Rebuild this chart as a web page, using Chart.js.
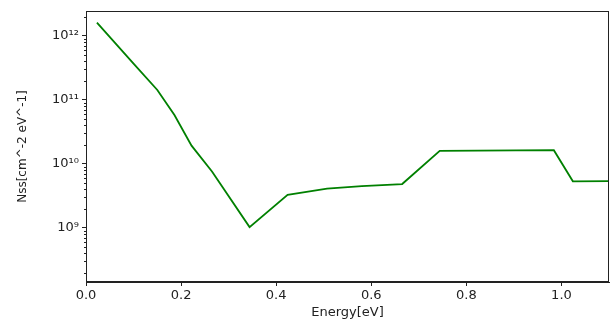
<!DOCTYPE html>
<html>
<head>
<meta charset="utf-8">
<script src="https://cdn.jsdelivr.net/npm/chart.js@4"></script>
<style>
  html, body { margin: 0; padding: 0; background: #fff; }
  #wrap { width: 611px; height: 320px; }
</style>
</head>
<body>
<div id="wrap"><canvas id="NssChart" width="611" height="320"></canvas></div>
<script>
// energy (eV) and interface state density
const energy = [0.023, 0.10, 0.15, 0.186, 0.222, 0.265, 0.344, 0.424, 0.507, 0.58, 0.665, 0.744, 0.984, 1.024, 1.10];
const nss = [1.61e12, 3.7e11, 1.43e11, 5.8e10, 1.93e10, 7.6e9, 1.03e9, 3.3e9, 4.1e9, 4.5e9, 4.85e9, 1.6e10, 1.64e10, 5.35e9, 5.4e9];

const xTicks = [0.0, 0.2, 0.4, 0.6, 0.8, 1.0];
const xTickLabels = ['0.0', '0.2', '0.4', '0.6', '0.8', '1.0'];
const yTicks = [1e9, 1e10, 1e11, 1e12];
const yTickLabels = ['10⁹', '10¹⁰', '10¹¹', '10¹²'];

const INK = '#222';
const FONT = 'DejaVu Sans';

// box round the plot + minor log ticks, like matplotlib
const frame = {
    id: 'frame',
    afterDraw(chart) {
        const c = chart.ctx;
        const a = chart.chartArea;
        const y = chart.scales.y;
        c.save();
        c.strokeStyle = INK;
        c.lineWidth = 1;
        c.strokeRect(Math.round(a.left) + 0.5, Math.round(a.top) + 0.5,
            Math.round(a.right - a.left) - 1, Math.round(a.bottom - a.top) - 1);
        c.beginPath();
        for (let e = 8; e <= 12; e++) {
            for (let m = 2; m <= 9; m++) {
                const v = m * Math.pow(10, e);
                if (v < y.min || v > y.max) continue;
                const py = Math.round(y.getPixelForValue(v)) + 0.5;
                c.moveTo(a.left - 2, py);
                c.lineTo(a.left, py);
            }
        }
        c.stroke();
        c.restore();
    }
};

new Chart(document.getElementById('NssChart'), {
    type: 'scatter',
    data: {
        datasets: [{
            data: energy.map((e, i) => ({ x: e, y: nss[i] })),
            showLine: true,
            borderColor: '#008000',
            borderWidth: 1.8,
            pointRadius: 0,
            tension: 0
        }]
    },
    options: {
        responsive: false,
        animation: false,
        devicePixelRatio: 1,
        layout: { padding: { top: 11, right: 2, left: 0, bottom: 0 } },
        plugins: {
            legend: { display: false },
            tooltip: { enabled: false }
        },
        scales: {
            x: {
                type: 'linear',
                min: 0,
                max: 1.1,
                afterBuildTicks: (s) => { s.ticks = xTicks.map(v => ({ value: v })); },
                afterFit: (s) => { s.height = 38; },
                border: { color: INK, width: 1 },
                grid: { drawOnChartArea: false, color: INK, tickLength: 4 },
                ticks: {
                    color: INK,
                    font: { family: FONT, size: 13 },
                    padding: 2,
                    maxRotation: 0,
                    callback: (v) => xTickLabels[xTicks.indexOf(v)]
                },
                title: {
                    display: true,
                    text: 'Energy[eV]',
                    color: INK,
                    font: { family: FONT, size: 13 },
                    padding: { top: 0, bottom: 0 }
                }
            },
            y: {
                type: 'logarithmic',
                min: 1.43e8,
                max: 2.45e12,
                afterBuildTicks: (s) => { s.ticks = yTicks.map(v => ({ value: v })); },
                afterFit: (s) => { s.width = 86; },
                border: { color: INK, width: 1 },
                grid: { drawOnChartArea: false, color: INK, tickLength: 4 },
                ticks: {
                    color: INK,
                    font: { family: FONT, size: 13 },
                    padding: 3,
                    callback: (v) => yTickLabels[yTicks.indexOf(v)]
                },
                title: {
                    display: true,
                    text: 'Nss[cm^-2 eV^-1]',
                    color: INK,
                    font: { family: FONT, size: 12 },
                    padding: { top: 16, bottom: 4 }
                }
            }
        }
    },
    plugins: [frame]
});
</script>
</body>
</html>
